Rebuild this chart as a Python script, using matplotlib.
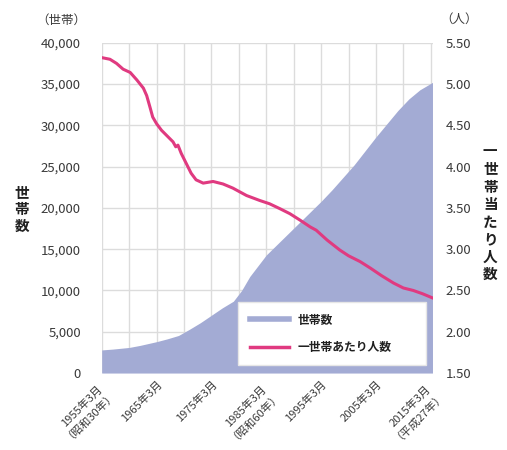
import matplotlib
matplotlib.use("Agg")
import matplotlib.pyplot as plt
from matplotlib.lines import Line2D
from matplotlib.ticker import FuncFormatter, MultipleLocator

plt.rcParams['font.family'] = ['Noto Sans CJK JP', 'DejaVu Sans']

# 世帯数 (March of each year)
hh_years = [1955, 1957, 1960, 1962, 1965, 1967, 1969, 1971, 1973, 1975,
            1977, 1979, 1980.5, 1982, 1983.5, 1985, 1987, 1989, 1991, 1993,
            1995, 1997, 1999, 2001, 2003, 2005, 2007, 2009, 2011, 2013,
            2015.3]
households = [2800, 2900, 3100, 3350, 3800, 4150, 4550, 5300, 6100, 7000,
              7900, 8700, 10000, 11700, 13000, 14300, 15600, 16900, 18200,
              19500, 20800, 22200, 23700, 25200, 26900, 28600, 30200, 31800,
              33200, 34300, 35200]

# 一世帯あたり人数
size_years = [1955, 1956.5, 1957.7, 1958.9, 1960.2, 1961.4, 1962.6, 1963.2,
              1963.8, 1964.3, 1965, 1965.9, 1967.1, 1968, 1968.5, 1968.9,
              1969.5, 1970.4, 1971.3, 1972.2, 1973.5, 1975.3, 1977.1, 1978.9,
              1981.4, 1983.8, 1985.6, 1987.5, 1989.3, 1991.2, 1993, 1994.1,
              1996.1, 1998.4, 2000, 2002.1, 2004, 2006, 2008.2, 2010, 2011.8,
              2013.5, 2015.3]
persons = [5.32, 5.30, 5.25, 5.18, 5.14, 5.05, 4.95, 4.86, 4.72, 4.60, 4.52,
           4.44, 4.36, 4.30, 4.24, 4.26, 4.16, 4.04, 3.92, 3.84, 3.80, 3.82,
           3.79, 3.74, 3.65, 3.59, 3.55, 3.49, 3.43, 3.35, 3.27, 3.23, 3.11,
           2.99, 2.92, 2.85, 2.77, 2.68, 2.59, 2.53, 2.50, 2.46, 2.41]

xtick_years = [1955, 1965, 1975, 1985, 1995, 2005, 2015]
xtick_labels = ['1955年3月\n（昭和30年）', '1965年3月', '1975年3月',
                '1985年3月\n（昭和60年）', '1995年3月', '2005年3月',
                '2015年3月\n（平成27年）']

area_color = '#a3abd4'
line_color = '#e03a80'
text_color = '#3a3a3a'

fig = plt.figure(figsize=(5.07, 4.5), dpi=100)
ax = fig.add_axes([0.2006, 0.171, 0.6535, 0.734])

ax.fill_between(hh_years, households, 0, color=area_color, lw=0, zorder=2)
ax.set_xlim(1955, 2015.4)
ax.set_ylim(0, 40000)
ax.yaxis.set_major_locator(MultipleLocator(5000))
ax.yaxis.set_major_formatter(FuncFormatter(lambda v, p: f'{int(v):,}'))
ax.set_xticks(xtick_years)
ax.set_xticklabels(xtick_labels, rotation=45, ha='right', va='top',
                   rotation_mode='anchor', multialignment='center')
for t in ax.get_xticklabels():
    t.set_linespacing(0.95)
ax.xaxis.set_minor_locator(MultipleLocator(5))
ax.grid(True, which='both', axis='x', color='#dcdcdc', lw=1)
ax.grid(True, which='major', axis='y', color='#dcdcdc', lw=1)
ax.set_axisbelow(True)
ax.tick_params(which='both', length=0, labelsize=8, colors=text_color)
ax.tick_params(axis='y', labelsize=9.5, pad=15)
ax.tick_params(axis='x', pad=4)
for s in ax.spines.values():
    s.set_visible(False)

ax2 = ax.twinx()
ax2.plot(size_years, persons, color=line_color, lw=2.2, zorder=3)
ax2.set_ylim(1.5, 5.5)
ax2.yaxis.set_major_locator(MultipleLocator(0.5))
ax2.yaxis.set_major_formatter(FuncFormatter(lambda v, p: f'{v:.2f}'))
ax2.tick_params(length=0, labelsize=9.5, colors=text_color, pad=9)
for s in ax2.spines.values():
    s.set_visible(False)

handles = [Line2D([], [], color=area_color, lw=4),
           Line2D([], [], color=line_color, lw=2.5)]
leg = ax2.legend(handles, ['世帯数', '一世帯あたり人数'], loc='lower left',
                 bbox_to_anchor=(0.393, 0.005, 0.604, 0.21), mode='expand',
                 fontsize=8.5, handlelength=3.3, labelspacing=1.2,
                 borderpad=1.0, framealpha=1, fancybox=False,
                 edgecolor='#e6e6e6')
for t in leg.get_texts():
    t.set_color('#202020')
    t.set_fontweight('bold')

fig.text(0.12, 0.955, '（世帯）', fontsize=9, color=text_color,
         ha='center', va='center')
fig.text(0.905, 0.958, '（人）', fontsize=9, color=text_color,
         ha='center', va='center')
fig.text(0.043, 0.535, '世\n帯\n数', fontsize=10.5, fontweight='bold',
         color='#202020', ha='center', va='center', linespacing=1.05)
fig.text(0.967, 0.527, '一\n世\n帯\n当\nた\nり\n人\n数', fontsize=10.5,
         fontweight='bold', color='#202020', ha='center', va='center',
         linespacing=1.12)

fig.savefig('out.png', dpi=100)
